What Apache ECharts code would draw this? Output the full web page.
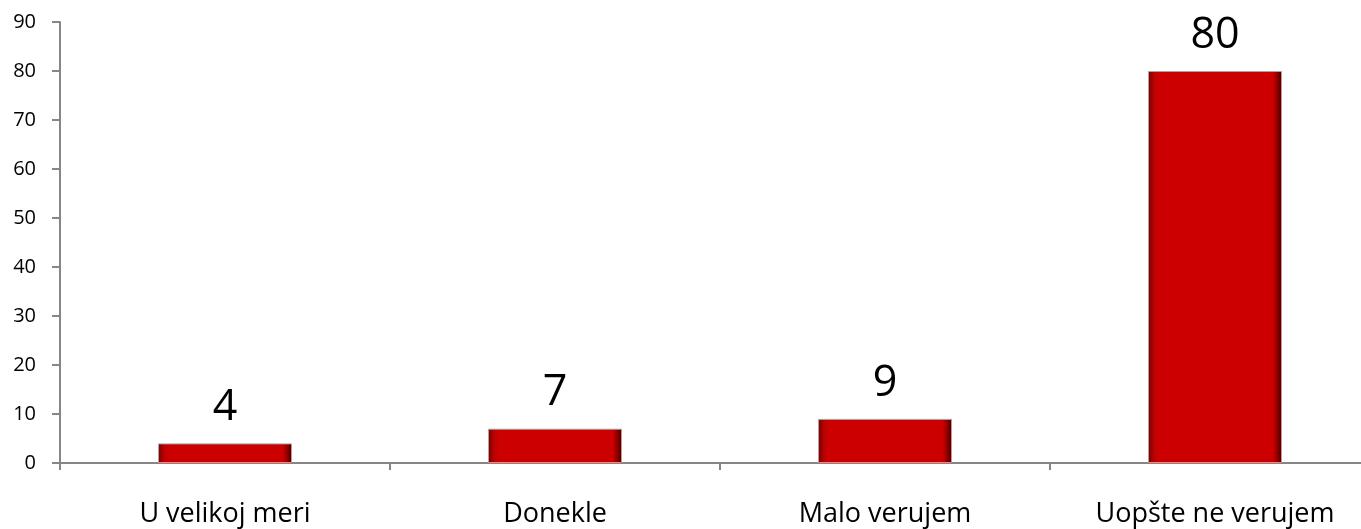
<!DOCTYPE html>
<html>
<head>
<meta charset="utf-8">
<script src="https://cdn.jsdelivr.net/npm/echarts@6/dist/echarts.min.js"></script>
<style>
  html, body { margin: 0; padding: 0; background: #fff; }
  #main { width: 1361px; height: 529px; }
</style>
</head>
<body>
<div id="main"></div>
<script>
// podaci sa slike
var categories = ['U velikoj meri', 'Donekle', 'Malo verujem', 'Uopšte ne verujem'];
var values = [4, 7, 9, 80];
var yTicks = [0, 10, 20, 30, 40, 50, 60, 70, 80, 90];

var chart = echarts.init(document.getElementById('main'));

var barFill = new echarts.graphic.LinearGradient(0, 0, 1, 0, [
  { offset: 0, color: '#7a0000' },
  { offset: 0.05, color: '#c00000' },
  { offset: 0.08, color: '#cc0000' },
  { offset: 0.93, color: '#cc0000' },
  { offset: 0.97, color: '#800000' },
  { offset: 1, color: '#300000' }
]);

chart.setOption({
  animation: false,
  grid: { left: 60, width: 1320, top: 22, bottom: 66, containLabel: false, outerBoundsMode: 'none' },
  xAxis: {
    type: 'category',
    data: categories,
    axisLine: { lineStyle: { color: '#868686', width: 2 } },
    axisTick: { show: true, length: 7, lineStyle: { color: '#868686', width: 2 } },
    axisLabel: { color: '#000', fontSize: 27, fontFamily: 'Open Sans', margin: 38 }
  },
  yAxis: {
    type: 'value',
    min: yTicks[0],
    max: yTicks[yTicks.length - 1],
    interval: 10,
    splitLine: { show: false },
    axisLine: { show: true, lineStyle: { color: '#868686', width: 2 } },
    axisTick: { show: true, length: 8, lineStyle: { color: '#868686', width: 2 } },
    axisLabel: { color: '#000', fontSize: 20, fontFamily: 'Open Sans', margin: 24 }
  },
  series: [{
    type: 'bar',
    data: values,
    barWidth: 134,
    itemStyle: { color: barFill, borderColor: '#d89090', borderWidth: 1 },
    label: {
      show: true,
      position: 'top',
      distance: 14,
      color: '#000',
      fontSize: 43,
      fontFamily: 'Open Sans'
    }
  }]
});
</script>
</body>
</html>
